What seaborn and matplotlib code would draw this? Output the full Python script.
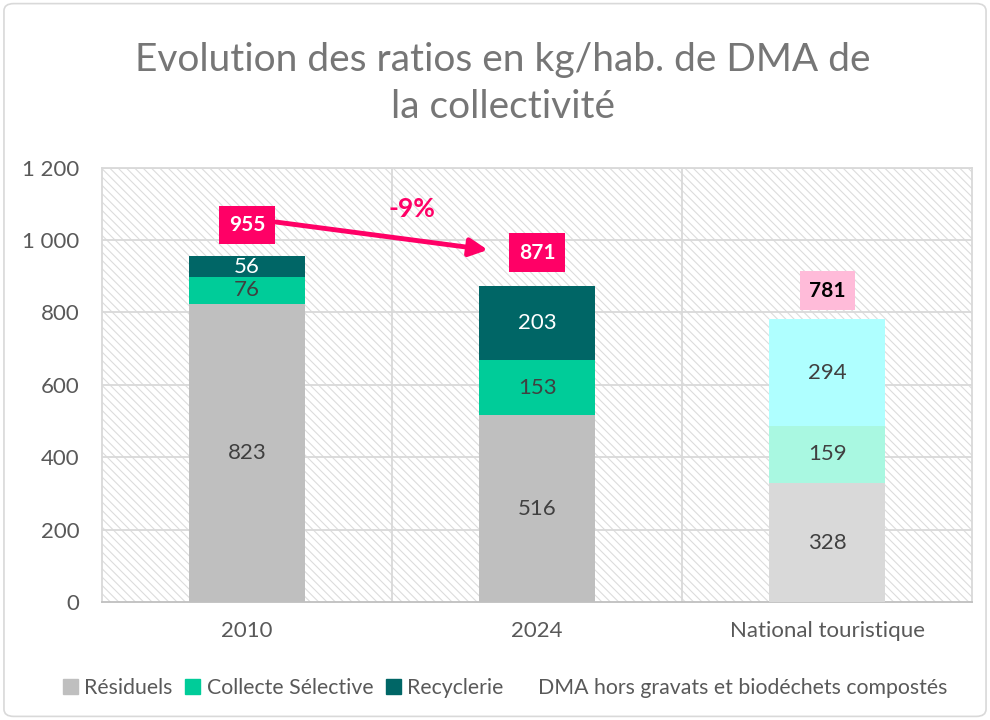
import matplotlib
matplotlib.use("Agg")
import matplotlib.pyplot as plt
import matplotlib.patches as mpatches
import seaborn as sns
import pandas as pd

categories = ["2010", "2024", "National touristique"]
residuels = [823, 516, 328]
collecte = [76, 153, 159]
recyclerie = [56, 203, 294]
totals = [955, 871, 781]
yticks = [0, 200, 400, 600, 800, 1000, 1200]
ytick_labels = ["0", "200", "400", "600", "800", "1 000", "1 200"]
title = "Evolution des ratios en kg/hab. de DMA de\nla collectivité"
evolution_label = "-9%"
legend_labels = ["Résiduels", "Collecte Sélective", "Recyclerie",
                 "DMA hors gravats et biodéchets compostés"]

col_res = ["#BFBFBF", "#BFBFBF", "#D9D9D9"]
col_cs = ["#00CC99", "#00CC99", "#A9F8E1"]
col_rec = ["#006666", "#006666", "#AFFFFF"]
lab_res = ["#404040", "#404040", "#404040"]
lab_cs = ["#404040", "#404040", "#404040"]
lab_rec = ["#FFFFFF", "#FFFFFF", "#404040"]

sns.set_theme(style="white")
plt.rcParams["font.family"] = ["Lato", "DejaVu Sans"]
plt.rcParams["hatch.linewidth"] = 0.8
plt.rcParams["hatch.color"] = "#DCDCDC"

df = pd.DataFrame({"cat": categories, "res": residuels, "cs": collecte, "rec": recyclerie})
df["c1"] = df["res"]
df["c2"] = df["res"] + df["cs"]
df["c3"] = df["c2"] + df["rec"]

fig = plt.figure(figsize=(9.9, 7.2), dpi=100)
ax = fig.add_axes([0.103, 0.164, 0.879, 0.603])

bg = mpatches.Rectangle((0, 0), 1, 1, transform=ax.transAxes, facecolor="white",
                        edgecolor="#DCDCDC", hatch="\\\\\\\\", linewidth=0, zorder=0)
ax.add_patch(bg)
ax.set_facecolor("white")

for col, pal in [("c3", col_rec), ("c2", col_cs), ("c1", col_res)]:
    sns.barplot(data=df, x="cat", y=col, hue="cat", palette=pal, width=0.4,
                legend=False, ax=ax, saturation=1, zorder=3, linewidth=0)

ax.set_xlim(-0.5, 2.5)
ax.set_ylim(0, 1200)
ax.set_yticks(yticks)
ax.set_yticklabels(ytick_labels)
ax.set_xlabel("")
ax.set_ylabel("")
ax.tick_params(axis="both", length=0, labelsize=16, labelcolor="#595959")
ax.tick_params(axis="x", pad=14)
ax.tick_params(axis="y", pad=16)

for y in yticks[1:]:
    ax.axhline(y, color="#D9D9D9", lw=1.3, zorder=1)
for x in [0.5, 1.5]:
    ax.axvline(x, color="#D9D9D9", lw=1.3, zorder=1)
for s in ["left", "right", "top"]:
    ax.spines[s].set_color("#D9D9D9")
    ax.spines[s].set_linewidth(1.3)
ax.spines["bottom"].set_color("#BFBFBF")
ax.spines["bottom"].set_linewidth(1.3)

for i in range(3):
    ax.text(i, residuels[i] / 2, str(residuels[i]), ha="center", va="center",
            fontsize=16, color=lab_res[i], zorder=5)
    ax.text(i, residuels[i] + collecte[i] / 2, str(collecte[i]), ha="center", va="center",
            fontsize=16, color=lab_cs[i], zorder=5)
    ax.text(i, residuels[i] + collecte[i] + recyclerie[i] / 2, str(recyclerie[i]),
            ha="center", va="center", fontsize=16, color=lab_rec[i], zorder=5)

tot_pos = [1042, 965, 860]
tot_face = ["#FF0066", "#FF0066", "#FFBBD9"]
tot_col = ["white", "white", "black"]
for i in range(3):
    ax.text(i, tot_pos[i], str(totals[i]), ha="center", va="center", fontsize=15,
            fontweight="bold", color=tot_col[i], zorder=6,
            bbox=dict(boxstyle="square,pad=0.45", facecolor=tot_face[i], edgecolor="none"))

ax.annotate("", xy=(0.83, 973), xytext=(0.10, 1050),
            arrowprops=dict(arrowstyle="-|>,head_length=0.9,head_width=0.45",
                            color="#FF0066", lw=3.5, shrinkA=0, shrinkB=0), zorder=6)
ax.text(0.57, 1086, evolution_label, ha="center", va="center", fontsize=19,
        fontweight="bold", color="#FF0066", zorder=6)

fig.suptitle(title, x=0.508, y=0.942, fontsize=28, color="#767676", linespacing=1.38)

handles = [mpatches.Patch(color=col_res[0]), mpatches.Patch(color=col_cs[0]),
           mpatches.Patch(color=col_rec[0]), mpatches.Patch(color="none")]
fig.legend(handles, legend_labels, loc="center", bbox_to_anchor=(0.51, 0.044),
           ncol=4, frameon=False, fontsize=15.3, handlelength=0.7, handleheight=0.7,
           handletextpad=0.3, columnspacing=0.6, labelcolor="#595959")

border = mpatches.FancyBboxPatch((0.004, 0.005), 0.992, 0.99, transform=fig.transFigure,
                                 boxstyle="round,pad=0,rounding_size=0.01",
                                 facecolor="none", edgecolor="#D9D9D9", lw=1.2)
fig.patches.append(border)

fig.savefig("out.png", dpi=100)
